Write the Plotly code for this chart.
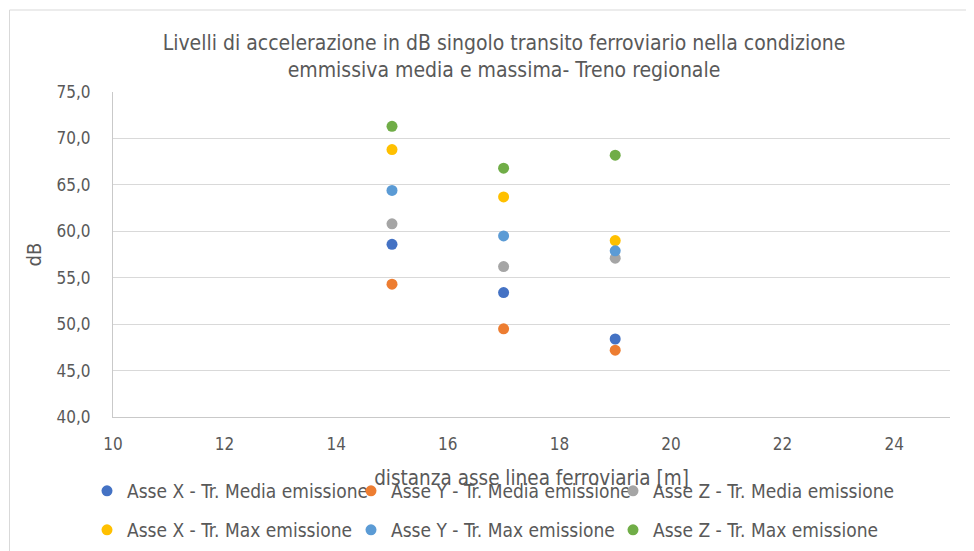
import plotly.graph_objects as go

distanze = [15, 17, 19]
asse_x_media = [58.6, 53.4, 48.4]
asse_y_media = [54.3, 49.5, 47.2]
asse_z_media = [60.8, 56.2, 57.1]
asse_x_max = [68.8, 63.7, 59.0]
asse_y_max = [64.4, 59.5, 57.9]
asse_z_max = [71.3, 66.8, 68.2]

series = [
    ("Asse X - Tr. Media emissione", asse_x_media, "#4472C4"),
    ("Asse Y - Tr. Media emissione", asse_y_media, "#ED7D31"),
    ("Asse Z - Tr. Media emissione", asse_z_media, "#A5A5A5"),
    ("Asse X - Tr. Max emissione", asse_x_max, "#FFC000"),
    ("Asse Y - Tr. Max emissione", asse_y_max, "#5B9BD5"),
    ("Asse Z - Tr. Max emissione", asse_z_max, "#70AD47"),
]

FONT = "Liberation Sans Narrow, Arial Narrow, DejaVu Sans Condensed, sans-serif"
TXT = "#595959"

legend_ids = ["legend2", "legend3", "legend4", "legend5", "legend6", "legend7"]

fig = go.Figure()
for (name, vals, col), lg in zip(series, legend_ids):
    fig.add_trace(go.Scatter(
        x=distanze, y=vals, mode="markers", name=name,
        marker=dict(color=col, size=11, line=dict(width=0)),
        legend=lg, showlegend=True,
    ))

# the page body adds an 8px margin, so the figure is sized to fit the window
W, H = 966, 543
L, R, T, B = 105, 24, 84, 134
pw, ph = W - L - R, H - T - B

def px_to_paper_x(px):
    return (px - L) / pw

def px_to_paper_y(py):
    return (H - B - py) / ph

legend_common = dict(
    orientation="h", visible=True,
    font=dict(family=FONT, size=19, color=TXT),
    bgcolor="rgba(0,0,0,0)", itemwidth=30,
    xanchor="left", yanchor="middle",
)
col_x = [79, 343, 605]
row_y = [483, 522]
legend_layout = {}
for i, lg in enumerate(legend_ids):
    legend_layout[lg] = dict(
        x=px_to_paper_x(col_x[i % 3]), y=px_to_paper_y(row_y[i // 3]),
        **legend_common,
    )

fig.update_layout(
    width=W, height=H, showlegend=True,
    margin=dict(l=L, r=R, t=T, b=B, autoexpand=False),
    paper_bgcolor="white", plot_bgcolor="white",
    separators=",.",
    font=dict(family=FONT, size=16, color=TXT),
    title=dict(
        text="Livelli di accelerazione in dB singolo transito ferroviario nella condizione<br>emmissiva media e massima- Treno regionale",
        x=496 / W, xanchor="center",
        y=1 - 42 / H, yanchor="middle",
        font=dict(family=FONT, size=21, color=TXT),
    ),
    xaxis=dict(
        range=[10, 25], dtick=2, tick0=10, showgrid=False, zeroline=False,
        showline=True, linecolor="#C9C9C9", linewidth=1,
        ticks="", ticklabelstandoff=12, tickfont=dict(size=17, color=TXT),
        title=dict(text="distanza asse linea ferroviaria [m]", standoff=17,
                   font=dict(size=20.5, color=TXT)),
    ),
    yaxis=dict(
        range=[40, 75], dtick=5, tickformat=".1f", showgrid=True,
        gridcolor="#D9D9D9", gridwidth=1, zeroline=False,
        showline=True, linecolor="#C9C9C9", linewidth=1,
        ticks="", ticklabelstandoff=18, tickfont=dict(size=17, color=TXT),
        title=dict(text="dB", standoff=9, font=dict(size=20, color=TXT)),
    ),
    shapes=[
        dict(type="rect", xref="paper", yref="paper",
             x0=px_to_paper_x(1.5), x1=px_to_paper_x(960),
             y0=px_to_paper_y(560), y1=px_to_paper_y(2),
             line=dict(color="#D9D9D9", width=1), layer="below"),
    ],
    **legend_layout,
)

fig.write_html("out.html")
